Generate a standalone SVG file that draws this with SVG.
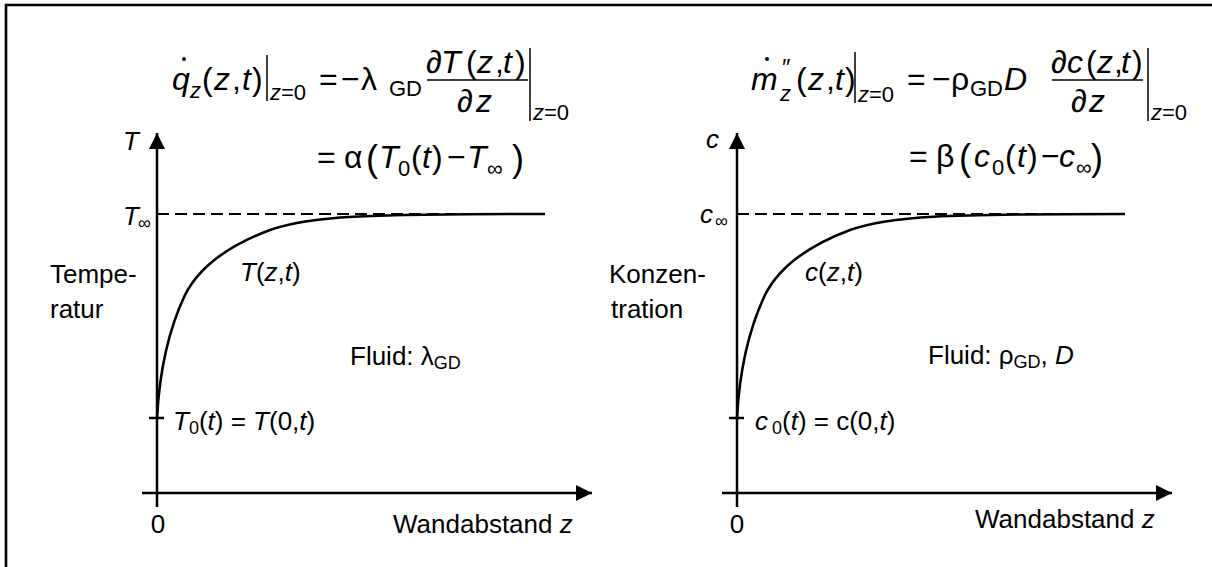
<svg xmlns="http://www.w3.org/2000/svg" width="1212" height="567" viewBox="0 0 1212 567">
<style>
text{font-family:"Liberation Sans",Arial,sans-serif;fill:#000}
.f{font-size:32px}
.s{font-size:22px}
.l{font-size:26px}
.ls{font-size:18px}
.i{font-style:italic}
.big{font-size:36px}
.ax{stroke:#000;stroke-width:2.5;fill:none}
.ln{stroke:#000;stroke-width:1.5;fill:none}
.crv{stroke:#000;stroke-width:2.6;fill:none}
.dash{stroke:#000;stroke-width:2;stroke-dasharray:12 6;fill:none}
</style>
<defs>
<marker id="ah" markerWidth="16" markerHeight="16" refX="16" refY="8" orient="auto" markerUnits="userSpaceOnUse">
<path d="M0,0 L16,8 L0,16 Z" fill="#000"/>
</marker>
</defs>
<g id="frame"><path d="M6,567 V5 H1212" stroke="#000" stroke-width="2.6" fill="none"/></g>

<g id="connectors">
<line class="ax" x1="157" y1="507" x2="157" y2="133" marker-end="url(#ah)"/>
<line class="ax" x1="142" y1="493" x2="592" y2="493" marker-end="url(#ah)"/>
<line class="ax" x1="149" y1="418" x2="164" y2="418"/>
<line class="dash" x1="157" y1="214" x2="545" y2="214"/>
<path class="crv" d="M157,418 C159,380 166,335 185,295 C200,265 230,245 270,230 C310,216 360,214 545,214"/>

<line class="ax" x1="737" y1="507" x2="737" y2="133" marker-end="url(#ah)"/>
<line class="ax" x1="722" y1="493" x2="1172" y2="493" marker-end="url(#ah)"/>
<line class="ax" x1="729" y1="418" x2="744" y2="418"/>
<line class="dash" x1="737" y1="214" x2="1125" y2="214"/>
<path class="crv" d="M737,418 C739,380 746,335 765,295 C780,265 810,245 850,230 C890,216 940,214 1125,214"/>
</g>

<g id="formula-left">
<text class="f i" x="172" y="90">q</text>
<circle cx="184" cy="59" r="2"/>
<text class="s i" x="190" y="98">z</text>
<text class="f" y="90"><tspan x="202">(</tspan><tspan class="i" x="214">z</tspan><tspan x="232">,</tspan><tspan class="i" x="242">t</tspan><tspan x="252">)</tspan></text>
<line class="ln" x1="267" y1="55" x2="267" y2="101"/>
<text class="s" x="270" y="100"><tspan class="i">z</tspan>=0</text>
<text class="f" y="90"><tspan x="319">=</tspan><tspan x="341">−</tspan><tspan x="361">λ</tspan></text>
<text class="s" x="389" y="96">GD</text>
<text class="f" y="73"><tspan x="426">∂</tspan><tspan class="i" x="441">T</tspan><tspan x="466">(</tspan><tspan class="i" x="477">z</tspan><tspan x="495">,</tspan><tspan class="i" x="503">t</tspan><tspan x="515">)</tspan></text>
<line class="ln" x1="427" y1="80" x2="528" y2="80"/>
<text class="f" y="112"><tspan x="457">∂</tspan><tspan class="i" x="476">z</tspan></text>
<line class="ln" x1="530" y1="48" x2="530" y2="121"/>
<text class="s" x="533" y="120"><tspan class="i">z</tspan>=0</text>
<text class="f" y="168"><tspan x="317">=</tspan><tspan x="344">α</tspan></text>
<text class="big" x="366" y="171">(</text>
<text class="f i" x="379" y="168">T</text>
<text class="s" x="398" y="176">0</text>
<text class="f" y="168"><tspan x="411">(</tspan><tspan class="i" x="422">t</tspan><tspan x="432">)</tspan><tspan x="447">−</tspan><tspan class="i" x="467">T</tspan></text>
<text class="s" x="487" y="176">∞</text>
<text class="big" x="512" y="171">)</text>
</g>

<g id="formula-right">
<text class="f i" x="751" y="90">m</text>
<circle cx="767" cy="59" r="2"/>
<text x="782" y="76" style="font-size:24px">″</text>
<text class="s i" x="780" y="101">z</text>
<text class="f" y="90"><tspan x="796">(</tspan><tspan class="i" x="808">z</tspan><tspan x="826">,</tspan><tspan class="i" x="835">t</tspan><tspan x="845">)</tspan></text>
<line class="ln" x1="855" y1="52" x2="855" y2="103"/>
<text class="s" x="858" y="102"><tspan class="i">z</tspan>=0</text>
<text class="f" y="90"><tspan x="907">=</tspan><tspan x="932">−</tspan><tspan x="951">ρ</tspan></text>
<text class="s" x="970" y="96">GD</text>
<text class="f i" x="1004" y="90">D</text>
<text class="f" y="73"><tspan x="1051">∂</tspan><tspan class="i" x="1067">c</tspan><tspan x="1086">(</tspan><tspan class="i" x="1097">z</tspan><tspan x="1114">,</tspan><tspan class="i" x="1121">t</tspan><tspan x="1132">)</tspan></text>
<line class="ln" x1="1052" y1="80" x2="1143" y2="80"/>
<text class="f" y="112"><tspan x="1071">∂</tspan><tspan class="i" x="1089">z</tspan></text>
<line class="ln" x1="1148" y1="48" x2="1148" y2="121"/>
<text class="s" x="1151" y="120"><tspan class="i">z</tspan>=0</text>
<text class="f" y="167"><tspan x="909">=</tspan><tspan x="936">β</tspan></text>
<text class="big" x="959" y="170">(</text>
<text class="f i" x="974" y="167">c</text>
<text class="s" x="992" y="175">0</text>
<text class="f" y="167"><tspan x="1005">(</tspan><tspan class="i" x="1017">t</tspan><tspan x="1027">)</tspan><tspan x="1041">−</tspan><tspan class="i" x="1059">c</tspan></text>
<text class="s" x="1076" y="175">∞</text>
<text class="big" x="1091" y="170">)</text>
</g>

<g id="labels-left">
<text class="l i" x="123" y="150">T</text>
<text class="l i" x="123" y="225">T</text>
<text class="ls" x="138" y="229">∞</text>
<text class="l" x="50" y="283">Tempe-</text>
<text class="l" x="50" y="318">ratur</text>
<text class="l" x="240" y="281"><tspan class="i">T</tspan>(<tspan class="i">z</tspan>,<tspan class="i">t</tspan>)</text>
<text class="l" x="350" y="365">Fluid: λ<tspan class="ls" dy="4">GD</tspan></text>
<text class="l" x="173" y="430"><tspan class="i">T</tspan><tspan class="ls" dy="4">0</tspan><tspan dy="-4">(</tspan><tspan class="i">t</tspan>) = <tspan class="i">T</tspan>(0,<tspan class="i">t</tspan>)</text>
<text class="l" x="158" y="533" text-anchor="middle">0</text>
<text class="l" x="393" y="533">Wandabstand <tspan class="i">z</tspan></text>
</g>

<g id="labels-right">
<text class="l i" x="706" y="148">c</text>
<text class="l i" x="700" y="223">c</text>
<text class="ls" x="715" y="227">∞</text>
<text class="l" x="609" y="283">Konzen-</text>
<text class="l" x="611" y="318">tration</text>
<text class="l" x="805" y="281"><tspan class="i">c</tspan>(<tspan class="i">z</tspan>,<tspan class="i">t</tspan>)</text>
<text class="l" x="928" y="364">Fluid: ρ<tspan class="ls" dy="4">GD</tspan><tspan dy="-4">, </tspan><tspan class="i">D</tspan></text>
<text class="l" x="755" y="430"><tspan class="i">c</tspan><tspan class="ls" dx="4" dy="4">0</tspan><tspan dy="-4">(</tspan><tspan class="i">t</tspan>) = c(0,<tspan class="i">t</tspan>)</text>
<text class="l" x="737" y="533" text-anchor="middle">0</text>
<text class="l" x="975" y="528">Wandabstand <tspan class="i">z</tspan></text>
</g>
</svg>
